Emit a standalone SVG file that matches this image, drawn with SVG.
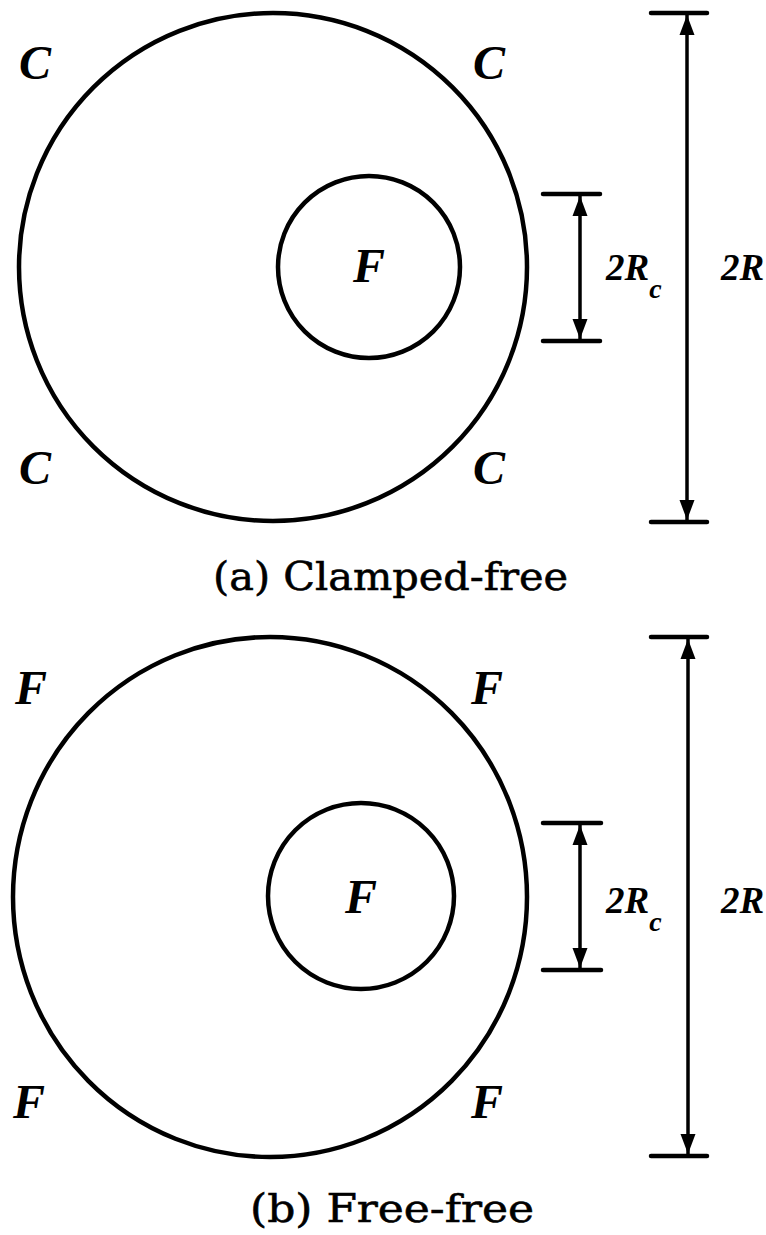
<svg xmlns="http://www.w3.org/2000/svg" width="766" height="1235" viewBox="0 0 766 1235">
<style>
.ring{fill:none;stroke:#000;stroke-width:4.5}
.tick{stroke:#000;stroke-width:4.5;stroke-linecap:round}
.dim{stroke:#000;stroke-width:3.5;marker-start:url(#arr);marker-end:url(#arr)}
.lbl{font-family:"Liberation Serif","Times New Roman",serif;font-weight:bold;font-style:italic;font-size:48px;fill:#000}
.dl{font-family:"Liberation Serif","Times New Roman",serif;font-weight:bold;font-style:italic;font-size:37px;fill:#000}
.cap{font-family:"DejaVu Serif","Liberation Serif",serif;font-size:40px;fill:#000;stroke:#000;stroke-width:0.6}
</style>
<defs>
<marker id="arr" viewBox="0 0 20 16" refX="20" refY="8" markerWidth="20" markerHeight="16" markerUnits="userSpaceOnUse" orient="auto-start-reverse">
<path d="M0,0.5 L20,8 L0,15.5 z" fill="#000"/>
</marker>
</defs>
<rect width="766" height="1235" fill="#fff"/>

<!-- Panel (a) -->
<g id="a-outer"><ellipse class="ring" cx="273" cy="267" rx="254" ry="254"/></g>
<g id="a-inner"><circle class="ring" cx="369" cy="267" r="91"/><text class="lbl" x="353" y="282">F</text></g>
<g id="a-c1"><text class="lbl" x="19" y="79">C</text></g>
<g id="a-c2"><text class="lbl" x="473" y="79">C</text></g>
<g id="a-c3"><text class="lbl" x="19" y="484">C</text></g>
<g id="a-c4"><text class="lbl" x="473" y="484">C</text></g>
<g id="a-2rc-label"><text class="dl" x="606" y="280">2R<tspan font-size="28" dy="18">c</tspan></text></g>
<g id="a-2r-label"><text class="dl" x="721" y="280">2R</text></g>
<g id="a-caption"><text class="cap" x="213" y="590" textLength="355" lengthAdjust="spacingAndGlyphs">(a) Clamped-free</text></g>

<!-- Panel (b) -->
<g id="b-outer"><ellipse class="ring" cx="270" cy="897" rx="257" ry="260"/></g>
<g id="b-inner"><circle class="ring" cx="361" cy="896" r="93"/><text class="lbl" x="345" y="913">F</text></g>
<g id="b-f1"><text class="lbl" x="15" y="704">F</text></g>
<g id="b-f2"><text class="lbl" x="471" y="704">F</text></g>
<g id="b-f3"><text class="lbl" x="13" y="1118">F</text></g>
<g id="b-f4"><text class="lbl" x="471" y="1118">F</text></g>
<g id="b-2rc-label"><text class="dl" x="606" y="913">2R<tspan font-size="28" dy="18">c</tspan></text></g>
<g id="b-2r-label"><text class="dl" x="721" y="913">2R</text></g>
<g id="b-caption"><text class="cap" x="250" y="1222" textLength="284" lengthAdjust="spacingAndGlyphs">(b) Free-free</text></g>

<g id="connectors">
<line class="tick" x1="651" y1="13" x2="707" y2="13"/>
<line class="tick" x1="651" y1="522" x2="707" y2="522"/>
<line class="dim" x1="687" y1="15" x2="687" y2="520"/>
<line class="tick" x1="543" y1="194" x2="600" y2="194"/>
<line class="tick" x1="543" y1="341" x2="600" y2="341"/>
<line class="dim" x1="580" y1="196" x2="580" y2="339"/>
<line class="tick" x1="651" y1="637" x2="707" y2="637"/>
<line class="tick" x1="651" y1="1156" x2="707" y2="1156"/>
<line class="dim" x1="688" y1="639" x2="688" y2="1154"/>
<line class="tick" x1="543" y1="823" x2="601" y2="823"/>
<line class="tick" x1="543" y1="970" x2="601" y2="970"/>
<line class="dim" x1="580" y1="825" x2="580" y2="968"/>
</g>
</svg>
